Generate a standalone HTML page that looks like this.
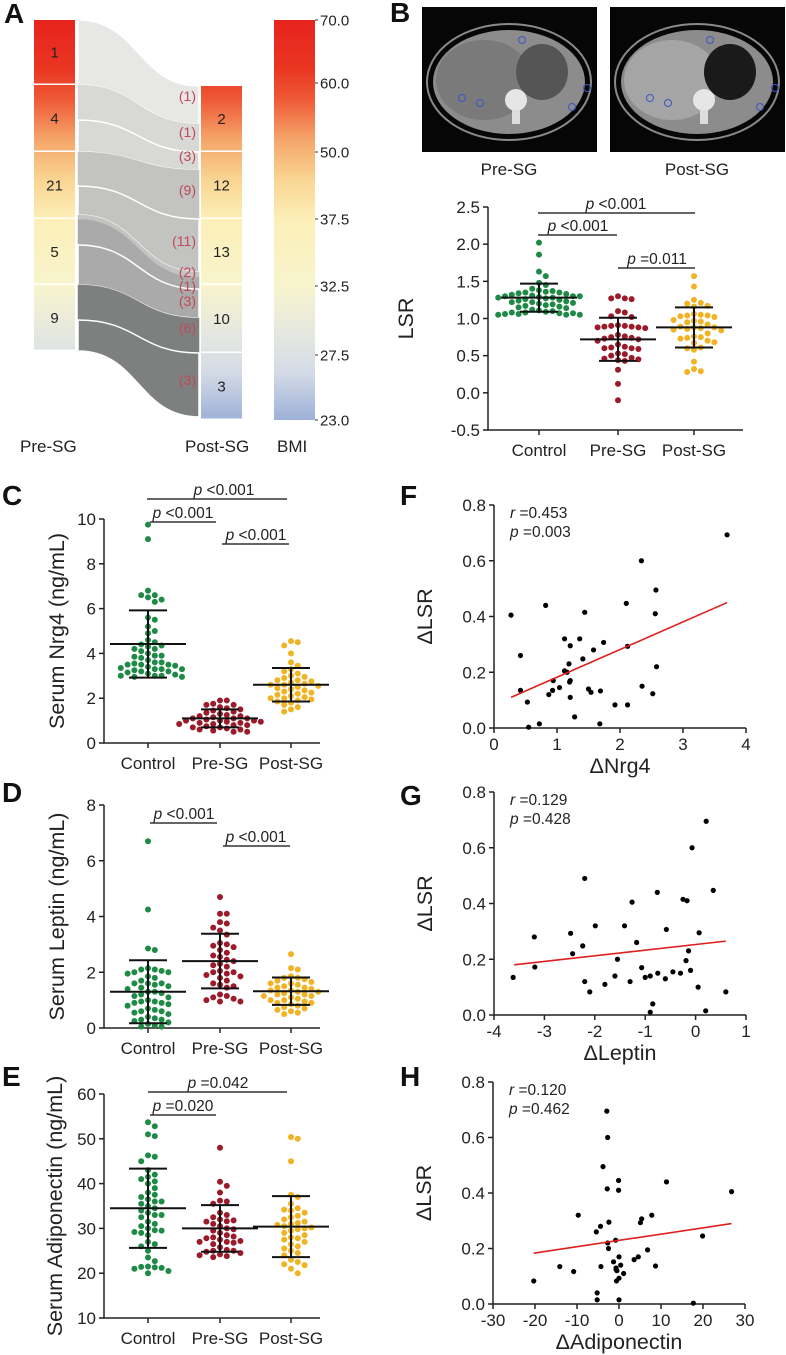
<!DOCTYPE html>
<html><head><meta charset="utf-8"><style>
html,body{margin:0;padding:0;background:#fff}
svg{display:block;font-family:"Liberation Sans",Arial,sans-serif}
</style></head><body>
<svg id="fig" width="786" height="1355" viewBox="0 0 786 1355" xmlns="http://www.w3.org/2000/svg">
<defs>
<linearGradient id="bmiGrad" gradientUnits="userSpaceOnUse" x1="0" y1="20" x2="0" y2="420">
<stop offset="0" stop-color="#e8231e"/><stop offset="0.12" stop-color="#e93522"/><stop offset="0.2" stop-color="#ef5a36"/>
<stop offset="0.3" stop-color="#f5a66a"/><stop offset="0.4" stop-color="#f9d593"/><stop offset="0.5" stop-color="#fcefb8"/>
<stop offset="0.66" stop-color="#f8f4cc"/><stop offset="0.8" stop-color="#e3e6e2"/><stop offset="0.88" stop-color="#d4dbe6"/><stop offset="1" stop-color="#9db1d8"/>
</linearGradient>
</defs>
</svg>
<script>
const NS="http://www.w3.org/2000/svg";
const svg=document.getElementById('fig');
function mk(tag,attrs,parent,text){const e=document.createElementNS(NS,tag);for(const k in attrs)e.setAttribute(k,attrs[k]);if(text!==undefined)e.textContent=text;(parent||svg).appendChild(e);return e;}

// ---------- DATA ----------
const groups=["Control","Pre-SG","Post-SG"];
const groupColors=["#1e8a45","#9b1b2a","#f0b323"];
// Panel B LSR
const lsrControl=[2.02,1.86,1.63,1.57,1.48,1.45,1.40,1.38,1.37,1.36,1.35,1.35,1.34,1.33,1.32,1.31,1.30,1.30,1.29,1.28,1.28,1.27,1.26,1.25,1.24,1.23,1.22,1.22,1.21,1.20,1.19,1.18,1.17,1.16,1.15,1.14,1.12,1.11,1.10,1.09,1.08,1.08,1.07,1.07,1.06,1.06,1.05,1.05,1.05,1.30];
const lsrPre=[1.30,1.27,1.27,1.26,1.10,1.08,1.03,1.02,0.91,0.90,0.90,0.89,0.89,0.88,0.88,0.87,0.76,0.75,0.74,0.73,0.72,0.70,0.65,0.62,0.61,0.60,0.60,0.59,0.53,0.52,0.50,0.47,0.46,0.45,0.44,0.43,0.31,0.12,-0.10,0.78];
const lsrPost=[1.57,1.43,1.25,1.21,1.20,1.17,1.16,1.06,1.05,1.04,1.04,1.03,1.02,0.98,0.97,0.96,0.95,0.89,0.88,0.88,0.87,0.86,0.85,0.84,0.76,0.75,0.74,0.73,0.70,0.68,0.67,0.61,0.60,0.58,0.42,0.32,0.29,0.28,0.80,0.92];
const lsrMean=[1.28,0.72,0.88];
const lsrSD=[0.19,0.29,0.27];
// Panel C Nrg4
const nrgControl=[9.75,9.1,6.8,6.6,6.6,6.5,6.3,5.6,5.5,5.0,4.9,4.6,4.5,4.4,4.35,4.3,4.2,4.1,4.0,3.9,3.85,3.8,3.7,3.6,3.55,3.5,3.5,3.45,3.4,3.35,3.3,3.3,3.25,3.2,3.2,3.15,3.1,3.05,3.0,3.0,3.0,2.95,2.95,3.6,3.9,4.2,3.5,3.3,6.4,5.2];
const nrgPre=[1.9,1.9,1.75,1.7,1.7,1.6,1.55,1.5,1.45,1.4,1.35,1.3,1.25,1.2,1.15,1.1,1.1,1.1,1.05,1.0,1.0,0.95,0.95,0.9,0.9,0.85,0.85,0.8,0.8,0.75,0.7,0.7,0.65,0.6,0.6,0.55,0.5,0.5,1.2,1.0];
const nrgPost=[4.55,4.5,4.35,4.0,3.6,3.45,3.3,3.2,3.1,3.0,2.95,2.9,2.8,2.75,2.7,2.65,2.6,2.55,2.5,2.45,2.4,2.35,2.3,2.25,2.2,2.15,2.1,2.05,2.0,2.0,1.95,1.9,1.85,1.8,1.7,1.6,1.5,1.4,2.6,2.8];
const nrgMean=[4.42,1.1,2.6];
const nrgSD=[1.5,0.4,0.75];
// Panel D Leptin
const lepControl=[6.7,4.25,2.85,2.8,2.15,2.1,2.1,2.05,2.0,1.95,1.85,1.8,1.6,1.6,1.6,1.55,1.5,1.45,1.3,1.3,1.25,1.2,1.15,1.0,0.95,0.95,0.9,0.9,0.85,0.7,0.65,0.6,0.6,0.55,0.5,0.35,0.3,0.3,0.25,0.2,0.15,0.1,0.05,0.05,1.4,1.1,0.8,2.0,1.7,0.4];
const lepPre=[4.7,4.1,4.1,3.8,3.75,3.6,3.5,3.35,3.05,3.0,2.95,2.8,2.7,2.6,2.55,2.45,2.4,2.3,2.25,2.05,2.0,2.0,1.95,1.9,1.85,1.8,1.6,1.55,1.5,1.45,1.2,1.15,1.1,1.05,1.0,0.95,0.95,2.2,2.9,1.7];
const lepPost=[2.65,2.15,2.1,1.85,1.8,1.8,1.75,1.7,1.65,1.6,1.55,1.5,1.45,1.4,1.35,1.3,1.3,1.25,1.2,1.2,1.15,1.1,1.05,1.0,1.0,0.95,0.9,0.85,0.8,0.75,0.7,0.65,0.6,0.55,0.5,1.35,1.45,1.6,1.15,0.9];
const lepMean=[1.3,2.4,1.32];
const lepSD=[1.13,0.98,0.49];
// Panel E Adiponectin
const adiControl=[53.7,52.8,51.0,50.6,46.3,46.0,45.0,43.0,42.0,41.5,41.0,40.5,40.0,38.0,37.5,37.0,36.5,36.0,36.0,35.0,34.5,34.0,33.5,33.0,32.5,31.5,31.0,30.0,29.6,29.5,29.2,29.0,28.5,27.0,26.5,26.0,23.5,22.7,21.5,21.4,21.3,21.2,21.0,20.5,20.0,33.0,35.5,39.0,30.5,25.0];
const adiPre=[48.0,40.4,39.5,38.0,36.2,36.0,35.5,33.5,32.5,32.0,31.8,31.6,31.5,31.0,30.5,30.0,29.8,29.5,29.0,28.5,28.2,28.0,27.8,27.5,27.2,27.0,26.8,26.5,25.8,25.2,25.0,25.0,24.8,24.5,24.2,24.0,23.8,23.6,33.0,27.0];
const adiPost=[50.4,50.0,45.0,37.5,37.0,35.5,34.5,34.0,33.5,32.5,32.0,31.5,31.2,31.0,30.8,30.5,30.2,30.0,29.5,29.0,28.5,28.0,27.5,27.0,26.5,26.0,25.5,25.0,24.5,24.0,23.0,22.5,22.0,21.8,21.0,20.0,32.8,29.8,27.8,34.2];
const adiMean=[34.5,30.0,30.4];
const adiSD=[8.85,5.2,6.8];
// Scatter F
const fX=[0.27,0.42,0.42,0.53,0.55,0.72,0.82,0.87,0.93,0.94,1.04,1.12,1.12,1.16,1.19,1.2,1.21,1.21,1.21,1.28,1.36,1.41,1.44,1.5,1.54,1.58,1.68,1.69,1.74,1.92,2.1,2.12,2.12,2.34,2.35,2.52,2.56,2.57,2.58,3.7];
const fY=[0.405,0.26,0.135,0.093,0.003,0.015,0.44,0.12,0.135,0.17,0.145,0.32,0.205,0.2,0.23,0.165,0.17,0.295,0.11,0.04,0.32,0.248,0.415,0.14,0.128,0.28,0.015,0.133,0.307,0.083,0.447,0.083,0.293,0.6,0.15,0.123,0.41,0.495,0.22,0.693];
const fFitX=[0.27,3.7];const fFitY=[0.11,0.45];
// Scatter G
const gX=[0.21,-0.07,-2.2,0.35,-0.76,-0.25,-0.17,-1.26,-1.99,-1.41,-2.48,-0.58,-3.2,0.07,-1.17,-2.24,-2.44,-0.14,-1.55,-0.19,-3.19,-1.07,-3.62,-2.2,-1.6,-1.3,-1.0,-0.9,-0.75,-0.6,-0.45,-0.3,-0.1,0.05,0.6,-0.9,-0.85,0.2,-2.1,-1.8];
const gY=[0.695,0.6,0.49,0.447,0.44,0.415,0.41,0.405,0.32,0.32,0.293,0.307,0.28,0.295,0.26,0.248,0.22,0.23,0.2,0.195,0.172,0.17,0.135,0.12,0.14,0.12,0.135,0.14,0.15,0.13,0.155,0.15,0.16,0.1,0.083,0.01,0.04,0.015,0.083,0.11];
const gFitX=[-3.6,0.6];const gFitY=[0.18,0.265];
// Scatter H
const hX=[-20.3,-14.1,-10.8,-9.7,-5.4,-5.2,-5.2,-4.4,-4.3,-3.8,-2.9,-2.8,-2.7,-2.7,-2.5,-2.4,-1.3,-0.8,-0.7,-0.6,-0.5,-0.1,-0.1,0,0,0,0.4,1.1,3.6,4.6,5.1,5.4,6.8,7.8,8.7,11.3,17.7,19.9,26.8,-0.7];
const hY=[0.083,0.135,0.117,0.32,0.26,0.04,0.015,0.28,0.135,0.495,0.695,0.415,0.22,0.6,0.2,0.295,0.152,0.23,0.125,0.083,0.12,0.445,0.41,0.17,0.093,0.015,0.14,0.11,0.16,0.17,0.293,0.307,0.195,0.32,0.137,0.44,0.003,0.245,0.405,0.13];
const hFitX=[-20.3,26.8];const hFitY=[0.183,0.29];
// Panel A
const bmiTicks=["70.0","60.0","50.0","37.5","32.5","27.5","23.0"];
const preCounts=[1,4,21,5,9];
const postCounts=[2,12,13,10,3];
const flowLabels=["(1)","(1)","(3)","(9)","(11)","(2)","(1)","(3)","(6)","(3)"];

// ---------- helpers ----------
function txt(x,y,s,opt,name){const t=mk('text',Object.assign({x:x,y:y,'font-size':15,fill:'#222'},opt||{}),svg,s);return t;}
function line(x1,y1,x2,y2,w,c,name){const l=mk('line',{x1:x1,y1:y1,x2:x2,y2:y2,stroke:c||'#222','stroke-width':w||1.5});return l;}
function letter(x,y,s){const t=mk('text',{x:x,y:y,'font-size':28,'font-weight':'bold',fill:'#111'},svg,s);}
function pLabel(cx,y,val){const t=mk('text',{x:cx,y:y,'font-size':15.5,fill:'#222','text-anchor':'middle'},svg);mk('tspan',{'font-style':'italic'},t,'p');mk('tspan',{},t,' '+val);}

// ---------- dot plot ----------
function dotPlot(cfg){
  const {x0,x1,yTop,yBot,vmin,vmax,ticks,cats,data,means,sds,title,titleX,name,tickFmt}=cfg;
  const ys=v=>yBot-(v-vmin)/(vmax-vmin)*(yBot-yTop);
  const g=mk('g',{});
  const ax=mk('path',{d:`M${x0},${yTop} L${x0},${yBot} L${x1},${yBot}`,fill:'none',stroke:'#222','stroke-width':1.5},g);
  
  ticks.forEach(v=>{const y=ys(v);line(x0-5,y,x0,y,1.5,'#222','y-tick');txt(x0-8,y+6,tickFmt?tickFmt(v):String(v),{'text-anchor':'end','font-size':17},'y-tick-label');});
  cats.forEach((cx,i)=>{line(cx,yBot,cx,yBot+5,1.5,'#222','x-tick');txt(cx,yBot+26,groups[i],{'text-anchor':'middle','font-size':17},'x-category-label');});
  const t=mk('text',{x:0,y:0,'font-size':21.5,fill:'#222','text-anchor':'middle',transform:`translate(${titleX},${(yTop+yBot)/2}) rotate(-90)`},svg,title);
  
  data.forEach((arr,gi)=>{
    const placed=[];const sorted=arr.slice().sort((a,b)=>b-a);
    sorted.forEach(v=>{
      const y=ys(v);let k=0,x;
      for(k=0;k<40;k++){const off=(k%2?1:-1)*Math.ceil(k/2)*6.8;x=cats[gi]+off;
        if(!placed.some(p=>Math.hypot(p[0]-x,p[1]-y)<6.2))break;}
      placed.push([x,y]);
      const c=mk('circle',{cx:x,cy:y,r:3,fill:groupColors[gi]},g);
      
    });
  });
  means.forEach((m,i)=>{const cx=cats[i];const sd=sds[i];
    line(cx-38,ys(m),cx+38,ys(m),2,'#111','mean-line');
    line(cx,ys(m-sd),cx,ys(m+sd),2,'#111','sd-bar');
    line(cx-19,ys(m+sd),cx+19,ys(m+sd),2,'#111','sd-cap');
    line(cx-19,ys(m-sd),cx+19,ys(m-sd),2,'#111','sd-cap');});
}

// ---------- scatter ----------
function scatter(cfg){
  const {x0,x1,yTop,yBot,xmin,xmax,xticks,yticks,X,Y,fx,fy,xTitle,rTxt,pTxt,name}=cfg;
  const xs=v=>x0+(v-xmin)/(xmax-xmin)*(x1-x0);
  const ys=v=>yBot-(v)/(0.8)*(yBot-yTop);
  const g=mk('g',{});
  const ax=mk('path',{d:`M${x0},${yTop} L${x0},${yBot} L${x1},${yBot}`,fill:'none',stroke:'#222','stroke-width':1.5},g);
  
  yticks.forEach(v=>{const y=ys(v);line(x0-5,y,x0,y,1.5,'#222','y-tick');txt(x0-8,y+6,v.toFixed(1),{'text-anchor':'end','font-size':17},'y-tick-label');});
  xticks.forEach(v=>{const x=xs(v);line(x,yBot,x,yBot+5,1.5,'#222','x-tick');txt(x,yBot+22,String(v),{'text-anchor':'middle','font-size':17},'x-tick-label');});
  txt((x0+x1)/2,yBot+45,xTitle,{'text-anchor':'middle','font-size':21.5},'x-axis-title');
  const t=mk('text',{x:0,y:0,'font-size':21.5,fill:'#222','text-anchor':'middle',transform:`translate(${x0-62},${(yTop+yBot)/2}) rotate(-90)`},svg,'ΔLSR');
  
  X.forEach((v,i)=>{const c=mk('circle',{cx:xs(v),cy:ys(Y[i]),r:2.6,fill:'#000'},g);});
  const fl=mk('line',{x1:xs(fx[0]),y1:ys(fy[0]),x2:xs(fx[1]),y2:ys(fy[1]),stroke:'#e0201e','stroke-width':1.6},g);
  
  const r=mk('text',{x:x0+16,y:yTop+13,'font-size':15.5,fill:'#222'},svg);
  mk('tspan',{'font-style':'italic'},r,'r');mk('tspan',{},r,' ='+rTxt);
  const p=mk('text',{x:x0+16,y:yTop+32,'font-size':15.5,fill:'#222'},svg);
  mk('tspan',{'font-style':'italic'},p,'p');mk('tspan',{},p,' ='+pTxt);
}

// ---------- Panel A ----------
letter(4,23,'A');
(function(){
  const pre=[20,85,152,219,285,351];const post=[86,152,219,285,353,420];
  const flowCol=['#e7e7e5','#d8d8d6','#d8d8d6','#c3c3c1','#c3c3c1','#c3c3c1','#a9aaa9','#a9aaa9','#7e8080','#7e8080'];
  const L=[[20,85],[85,120],[120,152],[152,186],[186,215],[215,219],[219,245],[245,285],[285,320],[320,351]];
  const R=[[86,124],[124,152],[152,170],[170,219],[219,272],[272,277],[277,289],[289,318],[318,353],[353,417]];
  const xa=78,xb=199,xm=(xa+xb)/2;
  const order=[0,1,2,3,4,6,5,7,8,9];
  const strokes=[1.5,0,1.5,0,1.5,0,0,1.5,0,1.5];
  order.forEach(i=>{const l=L[i],r=R[i];
    const d=`M${xa},${l[0]} C${xm},${l[0]} ${xm},${r[0]} ${xb},${r[0]} L${xb},${r[1]} C${xm},${r[1]} ${xm},${l[1]} ${xa},${l[1]} Z`;
    const p=mk('path',{d:d,fill:flowCol[i],stroke:strokes[i]?'#fff':flowCol[i],'stroke-width':strokes[i]||0.5});
    });
  const flowY=[101,137,161,195,246,277,291,306,333,385];
  flowLabels.forEach((s,i)=>txt(196,flowY[i],s,{'text-anchor':'end','font-size':14,fill:'#c0485a'},'flow-count'));
  for(let i=0;i<5;i++){
    const r=mk('rect',{x:34,y:pre[i],width:41,height:pre[i+1]-pre[i]-1.5,fill:'url(#bmiGrad)'});
    txt(54.5,(pre[i]+pre[i+1])/2+5,String(preCounts[i]),{'text-anchor':'middle','font-size':15},'node-count');
    const q=mk('rect',{x:201,y:post[i],width:41,height:post[i+1]-post[i]-1.5,fill:'url(#bmiGrad)'});
    txt(221.5,(post[i]+post[i+1])/2+5,String(postCounts[i]),{'text-anchor':'middle','font-size':15},'node-count');
  }
  const cb=mk('rect',{x:274,y:20,width:41,height:400,fill:'url(#bmiGrad)'});
  const ty=[20,83,152,219,286,355,420];
  bmiTicks.forEach((s,i)=>{line(315,ty[i],318,ty[i],1,'#333','colorbar-tick');txt(320,ty[i]+5.5,s,{'font-size':15},'colorbar-tick-label');});
  txt(20,452,'Pre-SG',{'font-size':17},'pre-sg-label');
  txt(185,452,'Post-SG',{'font-size':17},'post-sg-label');
  txt(277,452,'BMI',{'font-size':17},'bmi-label');
})();

// ---------- Panel B images ----------
letter(390,22,'B');
function ct(x,name,dark){
  const g=mk('g',{});
  mk('rect',{x:x,y:7,width:175,height:145,fill:'#060606'},g);
  mk('ellipse',{cx:x+87,cy:82,rx:82,ry:58,fill:'none',stroke:'#8a8a8a','stroke-width':2},g);
  mk('ellipse',{cx:x+87,cy:82,rx:76,ry:52,fill:'#8c8c8c'},g);
  mk('ellipse',{cx:x+62,cy:80,rx:48,ry:40,fill:dark?'#7a7a7a':'#a5a5a5'},g);
  mk('ellipse',{cx:x+120,cy:72,rx:26,ry:28,fill:dark?'#555':'#1a1a1a'},g);
  mk('circle',{cx:x+94,cy:100,r:11,fill:'#e6e6e6'},g);
  mk('rect',{x:x+90,y:110,width:8,height:14,fill:'#ddd'},g);
  [[40,98],[58,103],[150,107],[165,88],[100,40]].forEach(p=>mk('circle',{cx:x+p[0],cy:p[1],r:3.5,fill:'none',stroke:'#3b55c8','stroke-width':1},g));
}
ct(422,'ct-image-pre-sg',true);ct(610,'ct-image-post-sg',false);
txt(509,175,'Pre-SG',{'text-anchor':'middle','font-size':17},'ct-pre-label');
txt(697,175,'Post-SG',{'text-anchor':'middle','font-size':17},'ct-post-label');

dotPlot({x0:488,x1:743,yTop:207,yBot:430,vmin:-0.5,vmax:2.5,ticks:[-0.5,0,0.5,1,1.5,2,2.5],tickFmt:v=>v.toFixed(1),cats:[539,618,694],
  data:[lsrControl,lsrPre,lsrPost],means:lsrMean,sds:lsrSD,title:'LSR',titleX:413,name:'lsr-dot-plot'});
line(538,213,695,213,1.5,'#333','sig-bracket');pLabel(616,209,'<0.001');
line(538,235,617,235,1.5,'#333','sig-bracket');pLabel(578,231,'<0.001');
line(618,268,695,268,1.5,'#333','sig-bracket');pLabel(657,264,'=0.011');

// ---------- C ----------
letter(2,505,'C');
dotPlot({x0:104,x1:320,yTop:519,yBot:743,vmin:0,vmax:10,ticks:[0,2,4,6,8,10],cats:[148,220,291],
  data:[nrgControl,nrgPre,nrgPost],means:nrgMean,sds:nrgSD,title:'Serum Nrg4 (ng/mL)',titleX:64,name:'nrg4-dot-plot'});
line(147,499,287,499,1.5,'#333','sig-bracket');pLabel(224,495,'<0.001');
line(150,522,216,522,1.5,'#333','sig-bracket');pLabel(183,518,'<0.001');
line(222,544,289,544,1.5,'#333','sig-bracket');pLabel(256,540,'<0.001');

// ---------- D ----------
letter(2,802,'D');
dotPlot({x0:104,x1:320,yTop:805,yBot:1028,vmin:0,vmax:8,ticks:[0,2,4,6,8],cats:[148,220,291],
  data:[lepControl,lepPre,lepPost],means:lepMean,sds:lepSD,title:'Serum Leptin (ng/mL)',titleX:64,name:'leptin-dot-plot'});
line(150,823,217,823,1.5,'#333','sig-bracket');pLabel(184,819,'<0.001');
line(223,846,290,846,1.5,'#333','sig-bracket');pLabel(256,842,'<0.001');

// ---------- E ----------
letter(2,1086,'E');
dotPlot({x0:104,x1:320,yTop:1094,yBot:1318,vmin:10,vmax:60,ticks:[10,20,30,40,50,60],cats:[148,220,291],
  data:[adiControl,adiPre,adiPost],means:adiMean,sds:adiSD,title:'Serum Adiponectin (ng/mL)',titleX:62,name:'adiponectin-dot-plot'});
line(148,1092,287,1092,1.5,'#333','sig-bracket');pLabel(218,1088,'=0.042');
line(150,1115,216,1115,1.5,'#333','sig-bracket');pLabel(183,1111,'=0.020');

// ---------- F G H ----------
letter(400,505,'F');
scatter({x0:494,x1:746,yTop:505,yBot:728,xmin:0,xmax:4,xticks:[0,1,2,3,4],yticks:[0,0.2,0.4,0.6,0.8],X:fX,Y:fY,fx:fFitX,fy:fFitY,xTitle:'ΔNrg4',rTxt:'0.453',pTxt:'0.003',name:'nrg4-scatter'});
letter(400,805,'G');
scatter({x0:494,x1:746,yTop:792,yBot:1015,xmin:-4,xmax:1,xticks:[-4,-3,-2,-1,0,1],yticks:[0,0.2,0.4,0.6,0.8],X:gX,Y:gY,fx:gFitX,fy:gFitY,xTitle:'ΔLeptin',rTxt:'0.129',pTxt:'0.428',name:'leptin-scatter'});
letter(400,1086,'H');
scatter({x0:493,x1:745,yTop:1082,yBot:1304,xmin:-30,xmax:30,xticks:[-30,-20,-10,0,10,20,30],yticks:[0,0.2,0.4,0.6,0.8],X:hX,Y:hY,fx:hFitX,fy:hFitY,xTitle:'ΔAdiponectin',rTxt:'0.120',pTxt:'0.462',name:'adiponectin-scatter'});
</script>
</body></html>
